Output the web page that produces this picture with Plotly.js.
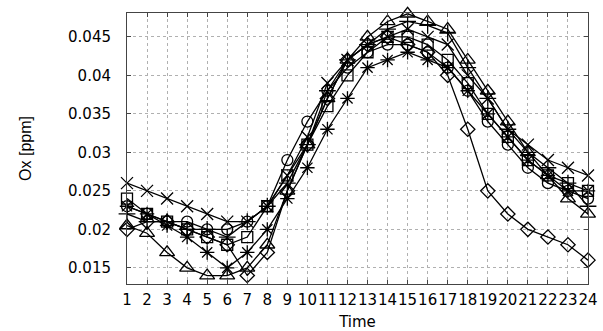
<!DOCTYPE html>
<html>
<head>
<meta charset="utf-8">
<script src="https://cdn.plot.ly/plotly-3.0.1.min.js"></script>
<style>html,body{margin:0;padding:0;background:#fff;}#chart{width:603px;height:331px;}</style>
</head>
<body>
<div id="chart"></div>
<script>
const hours = [1,2,3,4,5,6,7,8,9,10,11,12,13,14,15,16,17,18,19,20,21,22,23,24];
const tickLabels = hours.map(String);

const seriesX        = [0.026,0.025,0.024,0.023,0.022,0.021,0.021,0.023,0.027,0.032,0.039,0.042,0.044,0.045,0.046,0.045,0.044,0.040,0.037,0.033,0.031,0.029,0.028,0.027];
const seriesSquare   = [0.024,0.022,0.021,0.020,0.019,0.018,0.019,0.023,0.027,0.031,0.036,0.040,0.043,0.045,0.045,0.044,0.042,0.039,0.035,0.032,0.029,0.027,0.026,0.025];
const seriesCircle   = [0.023,0.022,0.021,0.021,0.020,0.020,0.021,0.023,0.029,0.034,0.038,0.041,0.043,0.044,0.044,0.043,0.041,0.038,0.034,0.031,0.028,0.026,0.025,0.024];
const seriesAsterisk = [0.023,0.022,0.0205,0.019,0.017,0.015,0.017,0.020,0.024,0.028,0.033,0.037,0.041,0.042,0.043,0.042,0.041,0.038,0.035,0.032,0.029,0.027,0.025,0.025];
const seriesTriangle = [0.0205,0.0195,0.017,0.015,0.014,0.014,0.015,0.018,0.025,0.031,0.037,0.042,0.045,0.047,0.048,0.047,0.046,0.042,0.038,0.034,0.030,0.027,0.024,0.022];
const seriesDiamond  = [0.020,0.021,0.021,0.020,0.019,0.018,0.014,0.017,0.025,0.031,0.037,0.042,0.044,0.045,0.044,0.043,0.040,0.033,0.025,0.022,0.020,0.019,0.018,0.016];
const seriesPlus     = [0.022,0.021,0.021,0.020,0.020,0.019,0.021,0.023,0.026,0.031,0.038,0.042,0.044,0.046,0.047,0.0465,0.0455,0.041,0.037,0.033,0.030,0.028,0.026,0.023];

const seriesList = [
  {y: seriesX, symbol: 'x-thin-open', size: 12},
  {y: seriesSquare, symbol: 'square-open', size: 11},
  {y: seriesCircle, symbol: 'circle-open', size: 11},
  {y: seriesAsterisk, symbol: 'asterisk-open', size: 12},
  {y: seriesTriangle, symbol: 'triangle-up-open', size: 13},
  {y: seriesDiamond, symbol: 'diamond-open', size: 11},
  {y: seriesPlus, symbol: 'cross-thin-open', size: 12}
];

const traces = seriesList.map(s => ({
  x: hours, y: s.y, type: 'scatter', mode: 'lines+markers',
  line: {color: '#000', width: 1.3},
  marker: {symbol: s.symbol, size: s.size, color: '#000', line: {color: '#000', width: 1.3}},
  cliponaxis: false, showlegend: false
}));

const layout = {
  width: 603, height: 331,
  margin: {l: 127, r: 15, t: 13, b: 47},
  paper_bgcolor: '#fff', plot_bgcolor: '#fff',
  font: {family: 'DejaVu Sans, Arial, sans-serif', color: '#000'},
  xaxis: {
    range: [1, 24], tickvals: hours, ticktext: tickLabels, tickangle: 0,
    showgrid: true, gridcolor: '#b0b0b0', griddash: 'dot', gridwidth: 1,
    zeroline: false, showline: true, linecolor: '#444', linewidth: 1, mirror: 'ticks',
    ticks: 'inside', ticklen: 4, tickcolor: '#444',
    tickfont: {size: 15, family: 'DejaVu Sans, sans-serif'},
    ticklabelstandoff: 2,
    title: {text: 'Time', font: {size: 15, family: 'DejaVu Sans, sans-serif'}, standoff: 8}
  },
  yaxis: {
    range: [0.0129, 0.0481], tickvals: [0.015,0.02,0.025,0.03,0.035,0.04,0.045],
    ticktext: ['0.015','0.02','0.025','0.03','0.035','0.04','0.045'],
    showgrid: true, gridcolor: '#b0b0b0', griddash: 'dot', gridwidth: 1,
    zeroline: false, showline: true, linecolor: '#444', linewidth: 1, mirror: 'ticks',
    ticks: 'inside', ticklen: 4, tickcolor: '#444',
    tickfont: {size: 15, family: 'DejaVu Sans, sans-serif'},
    ticklabelstandoff: 12,
    title: {text: 'Ox [ppm]', font: {size: 16, family: 'Liberation Sans, Arial, sans-serif'}, standoff: 32}
  }
};

Plotly.newPlot('chart', traces, layout, {displayModeBar: false, staticPlot: true});
</script>
</body>
</html>
